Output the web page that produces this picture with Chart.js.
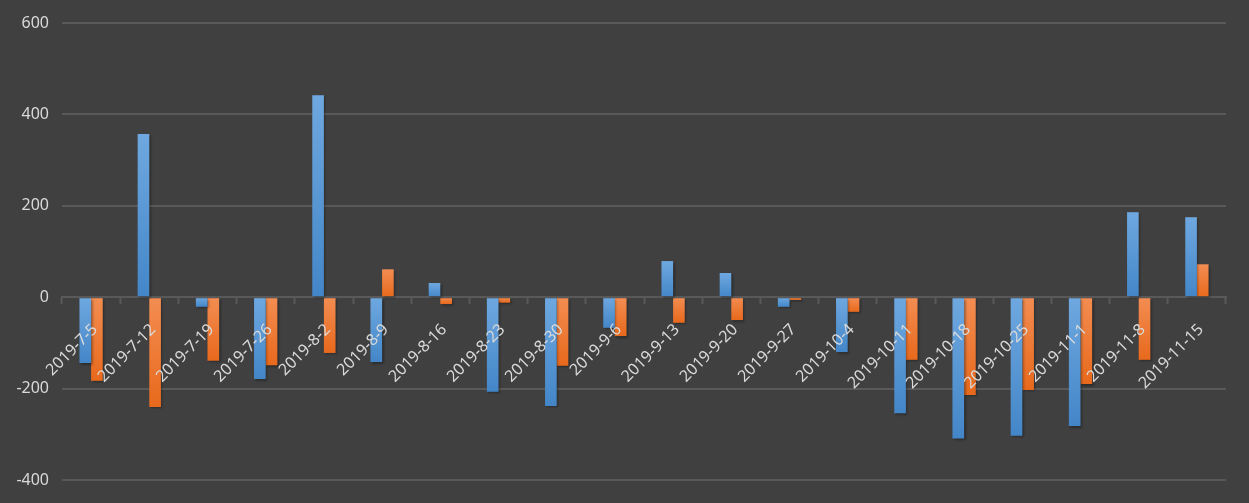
<!DOCTYPE html>
<html>
<head>
<meta charset="utf-8">
<script src="https://cdn.jsdelivr.net/npm/chart.js@4.4.1/dist/chart.umd.min.js"></script>
<style>
  html, body { margin: 0; padding: 0; background: #404040; }
  #wrap { width: 1249px; height: 503px; }
</style>
</head>
<body>
<div id="wrap"><canvas id="weekChart" width="1249" height="503"></canvas></div>
<script>
// ─── Data ─────────────────────────────────────────────────────────────────────
const WEEKS = [
  '2019-7-5', '2019-7-12', '2019-7-19', '2019-7-26', '2019-8-2',
  '2019-8-9', '2019-8-16', '2019-8-23', '2019-8-30', '2019-9-6',
  '2019-9-13', '2019-9-20', '2019-9-27', '2019-10-4', '2019-10-11',
  '2019-10-18', '2019-10-25', '2019-11-1', '2019-11-8', '2019-11-15'
];
const SERIES_BLUE = [
  -144, 357, -21, -179, 442, -142, 31, -207, -238, -67,
  79, 53, -21, -120, -254, -309, -303, -282, 186, 175
];
const SERIES_ORANGE = [
  -183, -240, -139, -149, -122, 61, -15, -12, -150, -85,
  -56, -50, -6, -32, -137, -214, -203, -190, -137, 72
];
const Y_MIN = -400, Y_MAX = 600, Y_STEP = 200;

const GRID = '#595959';
const TEXT = '#d9d9d9';

// vertical gradient per bar, lighter at the top
function barGradient(light, dark) {
  return function (c) {
    const chart = c.chart;
    const y = chart.scales && chart.scales.y;
    if (!y || c.raw === undefined || !isFinite(y.top)) return dark;
    const p1 = y.getPixelForValue(c.raw);
    const p0 = y.getPixelForValue(0);
    const top = Math.min(p0, p1), bot = Math.max(p0, p1);
    if (bot - top < 1) return dark;
    const g = chart.ctx.createLinearGradient(0, top, 0, bot);
    g.addColorStop(0, light);
    g.addColorStop(1, dark);
    return g;
  };
}

// tight drop shadow under the bars
const barShadow = {
  id: 'barShadow',
  beforeDatasetDraw(chart) {
    const ctx = chart.ctx;
    ctx.save();
    ctx.shadowColor = 'rgba(0,0,0,0.3)';
    ctx.shadowBlur = 2;
    ctx.shadowOffsetX = 1.5;
    ctx.shadowOffsetY = 1.5;
  },
  afterDatasetDraw(chart) {
    chart.ctx.restore();
  }
};

new Chart(document.getElementById('weekChart'), {
  type: 'bar',
  data: {
    labels: WEEKS,
    datasets: [
      {
        label: 'A',
        data: SERIES_BLUE,
        backgroundColor: barGradient('#6fa8e0', '#4386c8'),
        borderWidth: 0,
        inflateAmount: 0,
        barPercentage: 1,
        categoryPercentage: 0.4
      },
      {
        label: 'B',
        data: SERIES_ORANGE,
        backgroundColor: barGradient('#f38d52', '#e8691c'),
        borderWidth: 0,
        inflateAmount: 0,
        barPercentage: 1,
        categoryPercentage: 0.4
      }
    ]
  },
  options: {
    responsive: false,
    animation: false,
    layout: { padding: { top: 23, bottom: 23, right: 23, left: 0 } },
    plugins: {
      legend: { display: false },
      tooltip: { enabled: false }
    },
    scales: {
      x: {
        position: { y: 0 },
        afterFit(scale) { scale.height = 0; },
        border: { color: GRID, width: 2 },
        grid: {
          offset: true,
          drawOnChartArea: false,
          drawTicks: true,
          tickLength: 6,
          tickWidth: 2,
          color: GRID
        },
        ticks: {
          z: 1,   // labels on top of the bars
          color: TEXT,
          font: { family: 'Noto Sans', size: 16 },
          maxRotation: 45,
          minRotation: 45,
          autoSkip: false,
          padding: 17,
          labelOffset: 4
        }
      },
      y: {
        min: Y_MIN,
        max: Y_MAX,
        afterFit(scale) { scale.width = 62; },
        border: { display: false },
        grid: { color: GRID, lineWidth: 2, drawTicks: false },
        ticks: {
          stepSize: Y_STEP,
          color: TEXT,
          font: { family: 'Noto Sans', size: 16 },
          padding: 13
        }
      }
    }
  },
  plugins: [barShadow]
});
</script>
</body>
</html>
